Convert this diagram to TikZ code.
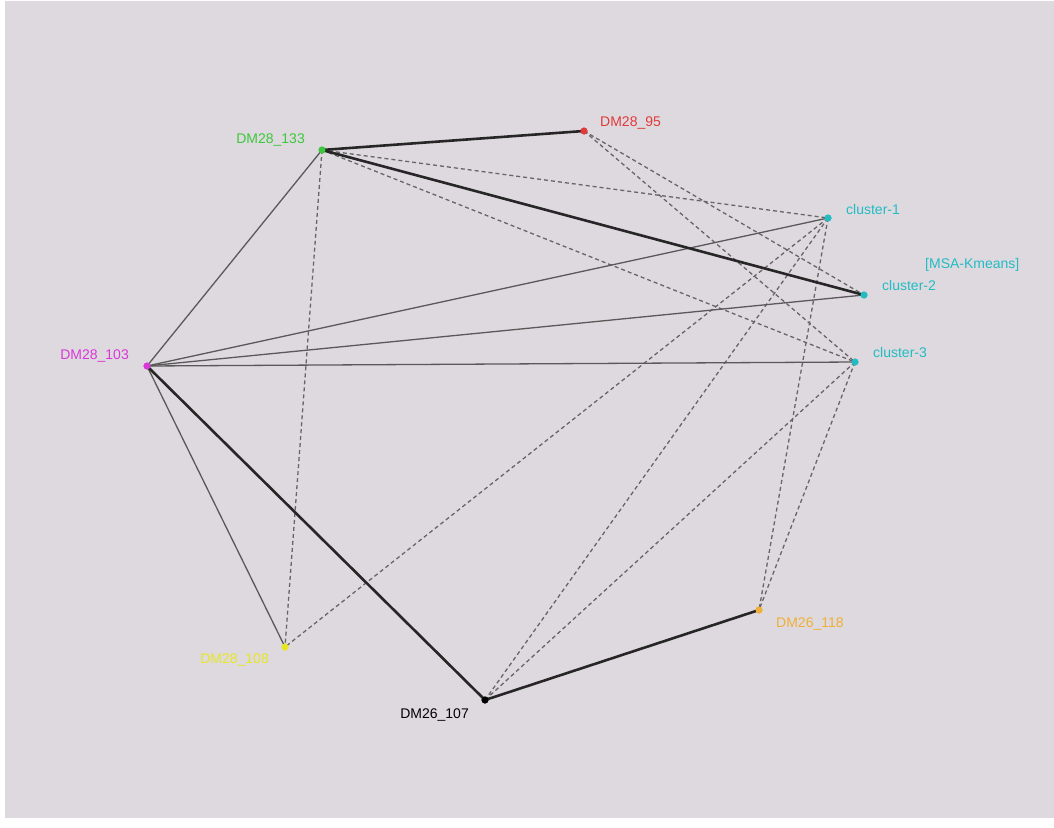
\documentclass[tikz,border=0pt]{standalone}
\usepackage{fontspec}
\setmainfont{Liberation Sans}
\begin{document}
\begin{tikzpicture}[x=1pt,y=-1pt,
  dot/.style={circle,inner sep=0pt,minimum size=7pt,fill=#1},
  lab/.style={text=#1,font=\fontsize{14}{15}\selectfont,inner sep=0pt},
  thickedge/.style={draw=black!85,line width=2.6pt},
  thinedge/.style={draw=black!65,line width=1.3pt},
  dashedge/.style={draw=black!60,line width=1.3pt,dash pattern=on 4pt off 3pt}]
\definecolor{bg}{HTML}{DED9DE}
\definecolor{cgreen}{HTML}{3CC83C}
\definecolor{cred}{HTML}{E03A3A}
\definecolor{ccyan}{HTML}{22BCC4}
\definecolor{cmag}{HTML}{D838D8}
\definecolor{cyel}{HTML}{E6E624}
\definecolor{corange}{HTML}{EEB038}
\fill[white] (0,0) rectangle (1054,827);
\fill[bg] (5,1) rectangle (1054,818);
\useasboundingbox (0,0) rectangle (1054,827);
% nodes
\node[dot=cgreen] (n133) at (322,150) {};
\node[dot=cred] (n95) at (584,131) {};
\node[dot=ccyan] (c1) at (828,218) {};
\node[dot=ccyan] (c2) at (864,295) {};
\node[dot=ccyan] (c3) at (855,362) {};
\node[dot=cmag] (n103) at (147,366) {};
\node[dot=cyel] (n108) at (285,647) {};
\node[dot=black] (n107) at (485,700) {};
\node[dot=corange] (n118) at (759,610) {};
% edges
\draw[dashedge] (n133.center) -- (c1.center);
\draw[dashedge] (n133.center) -- (c3.center);
\draw[dashedge] (n133.center) -- (n108.center);
\draw[dashedge] (n95.center) -- (c2.center);
\draw[dashedge] (n95.center) -- (c3.center);
\draw[dashedge] (c1.center) -- (n108.center);
\draw[dashedge] (c1.center) -- (n107.center);
\draw[dashedge] (c1.center) -- (n118.center);
\draw[dashedge] (c3.center) -- (n107.center);
\draw[dashedge] (c3.center) -- (n118.center);
\draw[thinedge] (n103.center) -- (n133.center);
\draw[thinedge] (n103.center) -- (c1.center);
\draw[thinedge] (n103.center) -- (c2.center);
\draw[thinedge] (n103.center) -- (c3.center);
\draw[thinedge] (n103.center) -- (n108.center);
\draw[thickedge] (n133.center) -- (n95.center);
\draw[thickedge] (n133.center) -- (c2.center);
\draw[thickedge] (n103.center) -- (n107.center);
\draw[thickedge] (n107.center) -- (n118.center);
% redraw dots on top
\node[dot=cgreen] at (n133) {};
\node[dot=cred] at (n95) {};
\node[dot=ccyan] at (c1) {};
\node[dot=ccyan] at (c2) {};
\node[dot=ccyan] at (c3) {};
\node[dot=cmag] at (n103) {};
\node[dot=cyel] at (n108) {};
\node[dot=black] at (n107) {};
\node[dot=corange] at (n118) {};
% labels
\node[lab=cgreen,anchor=east] (l133) at (305,140) {DM28\_133};
\node[lab=cred,anchor=west] (l95) at (600,123) {DM28\_95};
\node[lab=ccyan,anchor=west] (l1) at (846,209) {cluster-1};
\node[lab=ccyan,anchor=west] (lmsa) at (925,265) {[MSA-Kmeans]};
\node[lab=ccyan,anchor=west] (l2) at (882,285) {cluster-2};
\node[lab=ccyan,anchor=west] (l3) at (873,352) {cluster-3};
\node[lab=cmag,anchor=east] (l103) at (129,356) {DM28\_103};
\node[lab=cyel,anchor=east] (l108) at (269,660) {DM28\_108};
\node[lab=black,anchor=east] (l107) at (469,715) {DM26\_107};
\node[lab=corange,anchor=west] (l118) at (776,624) {DM26\_118};
\end{tikzpicture}
\end{document}
